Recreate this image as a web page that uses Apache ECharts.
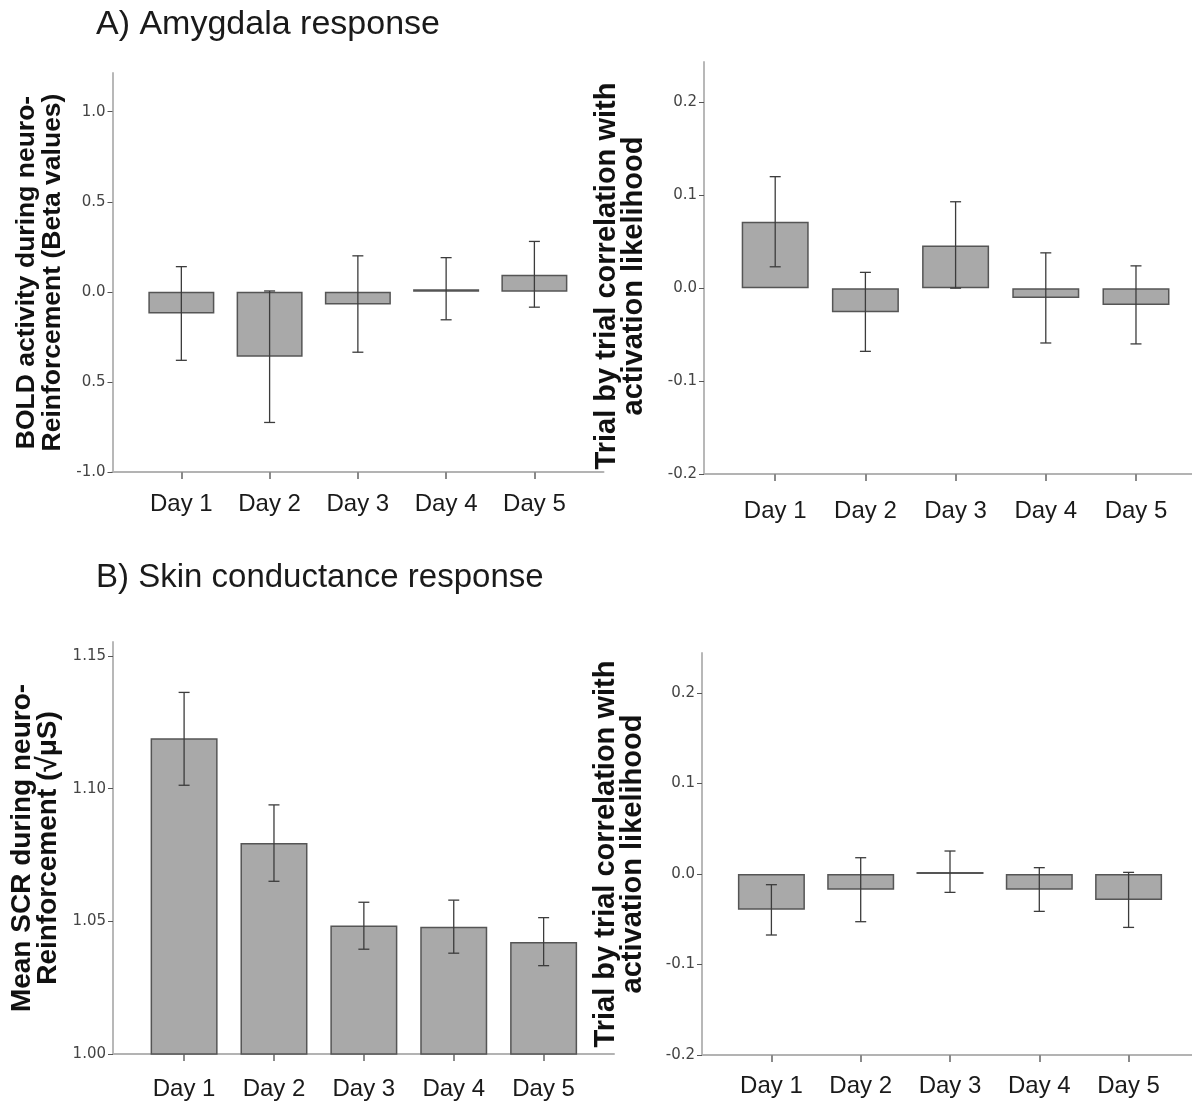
<!DOCTYPE html>
<html>
<head>
<meta charset="utf-8">
<script src="https://cdn.jsdelivr.net/npm/echarts@6/dist/echarts.min.js"></script>
<style>
html,body{margin:0;padding:0;background:#fff;}
#chart{width:1192px;height:1104px;}
</style>
</head>
<body>
<div id="chart"></div>
<script>
// ---------- data ----------
const days = [1, 2, 3, 4, 5];
const dayLabels = ['Day 1', 'Day 2', 'Day 3', 'Day 4', 'Day 5'];

// A) Amygdala BOLD (beta values)
const boldMean = [-0.12, -0.36, -0.07, 0.015, 0.095];
const boldLow  = [-0.38, -0.725, -0.335, -0.155, -0.085];
const boldHigh = [0.14, 0.005, 0.20, 0.19, 0.28];

// A) trial-by-trial correlation
const corrAMean = [0.0715, -0.026, 0.046, -0.0105, -0.018];
const corrALow  = [0.023, -0.068, 0.0, -0.059, -0.060];
const corrAHigh = [0.120, 0.017, 0.093, 0.038, 0.024];

// B) Mean SCR
const scrMean = [1.119, 1.0795, 1.0484, 1.048, 1.0422];
const scrLow  = [1.1013, 1.0651, 1.0395, 1.038, 1.0333];
const scrHigh = [1.1363, 1.0939, 1.0572, 1.058, 1.0514];

// B) trial-by-trial correlation
const corrBMean = [-0.0395, -0.0173, 0.0022, -0.0173, -0.0287];
const corrBLow  = [-0.0674, -0.0527, -0.0203, -0.0413, -0.059];
const corrBHigh = [-0.0118, 0.018, 0.0254, 0.007, 0.0018];

// tick values and labels
const boldTicks = [-1, -0.5, 0, 0.5, 1];
const boldTickLabels = ['-1.0', '0.5', '0.0', '0.5', '1.0'];
const corrTicks = [-0.2, -0.1, 0, 0.1, 0.2];
const corrTickLabels = ['-0.2', '-0.1', '0.0', '0.1', '0.2'];
const scrTicks = [1.00, 1.05, 1.10, 1.15];
const scrTickLabels = ['1.00', '1.05', '1.10', '1.15'];

const titleA = 'A) Amygdala response';
const titleB = 'B) Skin conductance response';
const nameBold = 'BOLD activity during neuro-\nReinforcement (Beta values)';
const nameCorr = 'Trial by trial correlation with\nactivation likelihood';
const nameScr = 'Mean SCR during neuro-\nReinforcement (\u221A\u03BCS)';

// ---------- build ----------
const panels = [
  {mean: boldMean, low: boldLow, high: boldHigh, ticks: boldTicks, tickLabels: boldTickLabels, name: nameBold,
   grid: {left: 112.5, top: 73, width: 491, height: 399}, x: [0.220, 5.783], y: [-1, 1.215], barWidth: 66,
   nameGap: 47, nameSize: 26.5, nameLH: 26, namePad: [0, 0, 0, 0], labelMargin: 20},
  {mean: corrAMean, low: corrALow, high: corrAHigh, ticks: corrTicks, tickLabels: corrTickLabels, name: nameCorr,
   grid: {left: 704, top: 62, width: 488, height: 412}, x: [0.2106, 5.621], y: [-0.2, 0.2434], barWidth: 67,
   nameGap: 57, nameSize: 29, nameLH: 27, namePad: [0, 16, 0, 0], labelMargin: 25},
  {mean: scrMean, low: scrLow, high: scrHigh, ticks: scrTicks, tickLabels: scrTickLabels, name: nameScr,
   grid: {left: 113, top: 642, width: 501, height: 412}, x: [0.209, 5.783], y: [1.0, 1.1553], barWidth: 67,
   nameGap: 52, nameSize: 28, nameLH: 26, namePad: [0, 0, 0, 0], labelMargin: 23},
  {mean: corrBMean, low: corrBLow, high: corrBHigh, ticks: corrTicks, tickLabels: corrTickLabels, name: nameCorr,
   grid: {left: 702, top: 653, width: 490, height: 402}, x: [0.2228, 5.71], y: [-0.2, 0.2442], barWidth: 67,
   nameGap: 56, nameSize: 29, nameLH: 27, namePad: [0, 0, 0, 0], labelMargin: 19}
];

const grids = [], xAxes = [], yAxes = [], series = [];
panels.forEach((p, i) => {
  grids.push(Object.assign({outerBoundsMode: 'none', containLabel: false}, p.grid));
  xAxes.push({
    type: 'value', gridIndex: i, min: p.x[0], max: p.x[1],
    splitLine: {show: false},
    axisLine: {show: true, onZero: false, lineStyle: {color: '#b3b3b3', width: 2}},
    axisTick: {show: true, customValues: days, length: 7, lineStyle: {color: '#8a8a8a', width: 2}},
    axisLabel: {show: true, customValues: days, margin: p.labelMargin,
      formatter: v => dayLabels[days.indexOf(Math.round(v))] || '',
      fontFamily: 'Liberation Sans, Arial, sans-serif', fontSize: 24, color: '#1a1a1a'}
  });
  yAxes.push({
    type: 'value', gridIndex: i, min: p.y[0], max: p.y[1],
    splitLine: {show: false},
    axisLine: {show: true, lineStyle: {color: '#b8b8b8', width: 2}},
    axisTick: {show: true, customValues: p.ticks, length: 5, lineStyle: {color: '#555', width: 1}},
    axisLabel: {show: true, customValues: p.ticks, margin: 7,
      formatter: v => {
        let k = p.ticks.findIndex(t => Math.abs(t - v) < 1e-6);
        return k >= 0 ? p.tickLabels[k] : '';
      },
      fontFamily: 'DejaVu Sans, sans-serif', fontSize: 15, color: '#444'},
    name: p.name, nameLocation: 'middle', nameRotate: 90, nameGap: p.nameGap,
    nameTextStyle: {fontFamily: 'Liberation Sans, Arial, sans-serif', fontWeight: 'bold',
      fontSize: p.nameSize, color: '#111', lineHeight: p.nameLH, align: 'center', padding: p.namePad}
  });
  series.push({
    type: 'bar', xAxisIndex: i, yAxisIndex: i, clip: true, z: 2,
    barWidth: p.barWidth,
    data: days.map((d, k) => [d, p.mean[k]]),
    itemStyle: {color: '#a9a9a9', borderColor: '#555', borderWidth: 1.5},
    emphasis: {disabled: true}, silent: true, animation: false
  });
  series.push({
    type: 'custom', xAxisIndex: i, yAxisIndex: i, silent: true, animation: false, z: 10,
    data: days.map((d, k) => [d, p.low[k], p.high[k]]),
    renderItem: (params, api) => {
      const x = api.value(0);
      const top = api.coord([x, api.value(2)]);
      const bot = api.coord([x, api.value(1)]);
      const hw = 5.5;
      const st = {stroke: '#3c3c3c', lineWidth: 1.3};
      return {type: 'group', children: [
        {type: 'line', shape: {x1: top[0], y1: top[1], x2: bot[0], y2: bot[1]}, style: st},
        {type: 'line', shape: {x1: top[0] - hw, y1: top[1], x2: top[0] + hw, y2: top[1]}, style: st},
        {type: 'line', shape: {x1: bot[0] - hw, y1: bot[1], x2: bot[0] + hw, y2: bot[1]}, style: st}
      ]};
    }
  });
});

const chart = echarts.init(document.getElementById('chart'), null, {renderer: 'canvas'});
chart.setOption({
  backgroundColor: '#fff',
  animation: false,
  title: [
    {text: titleA, left: 91, top: 3, textStyle: {fontFamily: 'Liberation Sans, Arial, sans-serif', fontSize: 34, fontWeight: 'normal', color: '#1a1a1a'}},
    {text: titleB, left: 91, top: 556, textStyle: {fontFamily: 'Liberation Sans, Arial, sans-serif', fontSize: 33, fontWeight: 'normal', color: '#1a1a1a'}}
  ],
  grid: grids, xAxis: xAxes, yAxis: yAxes, series: series
});
</script>
</body>
</html>
